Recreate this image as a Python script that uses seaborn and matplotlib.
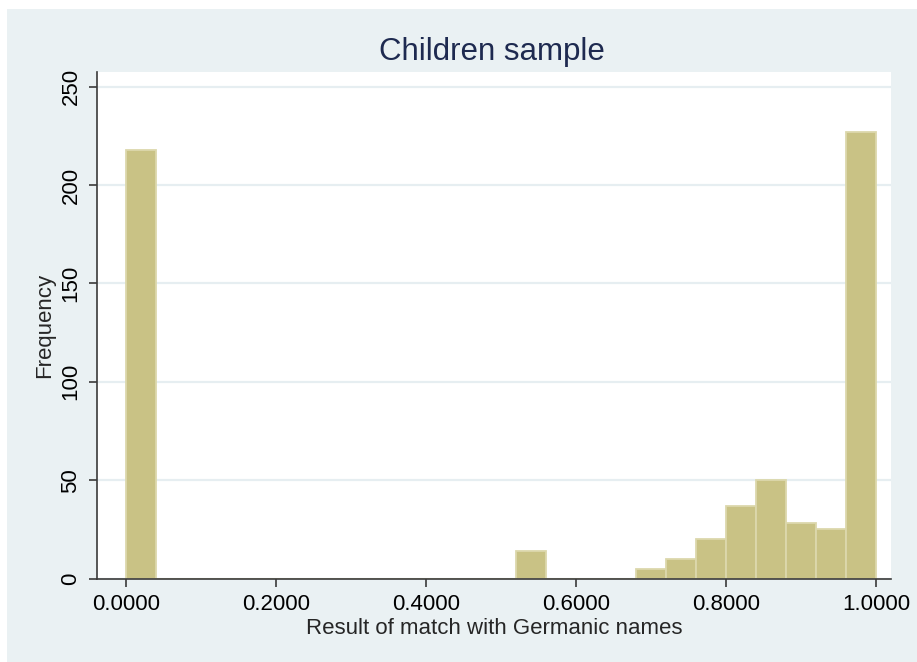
import matplotlib
matplotlib.use('Agg')
import matplotlib.pyplot as plt
import pandas as pd
import seaborn as sns
from matplotlib.patches import Rectangle

# Histogram data (bins of width 0.04 on [0, 1])
bin_left = [0.00, 0.52, 0.68, 0.72, 0.76, 0.80, 0.84, 0.88, 0.92, 0.96]
counts = [218, 14, 5, 10, 20, 37, 50, 28, 25, 227]
bin_width = 0.04
x_ticks = [0.0, 0.2, 0.4, 0.6, 0.8, 1.0]
y_ticks = [0, 50, 100, 150, 200, 250]

df = pd.DataFrame({'score': [b + bin_width / 2 for b in bin_left], 'n': counts})

sns.set_style('white')
plt.rcParams['font.family'] = ['Liberation Sans', 'DejaVu Sans']

fig = plt.figure(figsize=(9.17, 6.62), dpi=100, facecolor='white')
# light outer background like the Stata scheme
fig.patches.append(Rectangle((7 / 917, 0), 1, 1 - 9 / 662, transform=fig.transFigure,
                             facecolor='#EAF1F3', edgecolor='none', zorder=-10))

ax = fig.add_axes([0.1055, 0.1261, 0.8662, 0.7651])
ax.set_facecolor('white')
ax.yaxis.grid(True, color='#E6EEF1', linewidth=1.6, zorder=0)
ax.set_axisbelow(True)

sns.histplot(data=df, x='score', weights='n', binwidth=bin_width, binrange=(0, 1), ax=ax,
             color='#C9C285', edgecolor='#DCD8AC', linewidth=1.3, alpha=1)

ax.set_xlim(-0.039, 1.02)
ax.set_ylim(0, 257.5)
ax.set_xticks(x_ticks)
ax.set_xticklabels([f'{v:.4f}' for v in x_ticks])
ax.set_yticks(y_ticks)
ax.set_yticklabels([str(v) for v in y_ticks], rotation=90, va='center')

for side in ['top', 'right']:
    ax.spines[side].set_visible(False)
for side in ['left', 'bottom']:
    ax.spines[side].set_color('#3A3A3A')
    ax.spines[side].set_linewidth(1.2)

ax.tick_params(axis='both', direction='out', length=6, width=1.2, color='#3A3A3A',
               labelsize=16, labelcolor='black', pad=5)
ax.tick_params(left=True, bottom=True)

ax.set_xlabel('Result of match with Germanic names', fontsize=16, labelpad=2)
ax.set_ylabel('Frequency', fontsize=16, labelpad=4)
fig.text(0.5365, 1 - 52 / 662, 'Children sample', ha='center', va='center',
         fontsize=22.5, color='#1E2A50')

fig.savefig('out.png', dpi=100, facecolor=fig.get_facecolor())
